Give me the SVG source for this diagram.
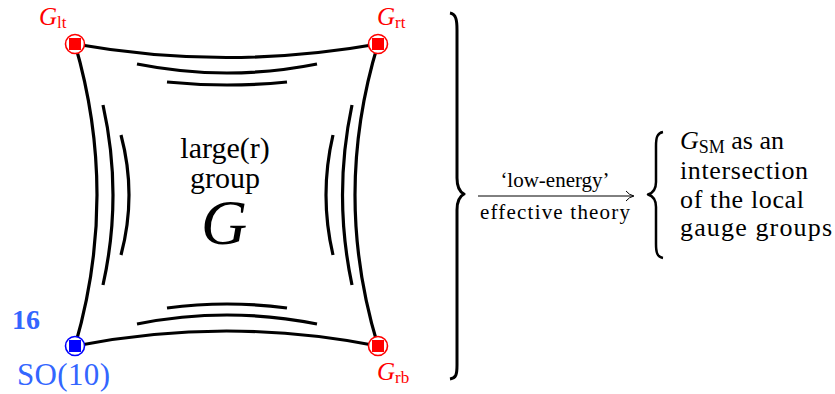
<svg xmlns="http://www.w3.org/2000/svg" width="835" height="394" viewBox="0 0 835 394">
<style>
.e{fill:none;stroke:#000;stroke-width:3.2;stroke-linecap:butt}
.br{fill:none;stroke:#000;stroke-linejoin:round}
text{font-family:'Liberation Serif','DejaVu Serif',serif}
.red{fill:#ff0000}
.blue{fill:#3366ff}
.ci{fill:#fff;stroke-width:1.6}
</style>
<rect width="835" height="394" fill="#fff"/>
<g id="connectors">
<path class="e" d="M75,44 Q226.5,71 378,44"/>
<path class="e" d="M75,346 Q226.5,316 378,346"/>
<path class="e" d="M75,44 Q119,195 75,346"/>
<path class="e" d="M378,44 Q332,195 378,346"/>
<path class="e" d="M137,64 Q227,82 317,64"/>
<path class="e" d="M167,82 Q227,88 287,82"/>
<path class="e" d="M137,324 Q227,306 317,324"/>
<path class="e" d="M167,308 Q227,300 287,308"/>
<path class="e" d="M103,105 Q123,195 103,285"/>
<path class="e" d="M121,135 Q137,195 121,255"/>
<path class="e" d="M352,105 Q333,195 352,285"/>
<path class="e" d="M333,135 Q319,195 333,255"/>
</g>
<g id="node-lt">
<circle class="ci" cx="75" cy="44" r="9.5" stroke="#ff0000"/>
<rect x="69" y="38" width="12" height="12" fill="#ff0000"/>
<text class="red" x="39" y="25" font-size="25" font-style="italic">G<tspan font-style="normal" font-size="17" dy="3">lt</tspan></text>
</g>
<g id="node-rt">
<circle class="ci" cx="378" cy="44" r="9.5" stroke="#ff0000"/>
<rect x="372" y="38" width="12" height="12" fill="#ff0000"/>
<text class="red" x="377" y="25" font-size="25" font-style="italic">G<tspan font-style="normal" font-size="17" dy="3">rt</tspan></text>
</g>
<g id="node-rb">
<circle class="ci" cx="378" cy="346" r="9.5" stroke="#ff0000"/>
<rect x="372" y="340" width="12" height="12" fill="#ff0000"/>
<text class="red" x="377" y="380" font-size="25" font-style="italic">G<tspan font-style="normal" font-size="17" dy="3">rb</tspan></text>
</g>
<g id="node-lb">
<circle class="ci" cx="75" cy="346" r="9.5" stroke="#0000ff"/>
<rect x="69" y="340" width="12" height="12" fill="#0000ff"/>
<text class="blue" x="12" y="329" font-size="28" font-weight="bold">16</text>
<text class="blue" x="17" y="385" font-size="31" textLength="93">SO(10)</text>
</g>
<g id="center-label">
<text x="225" y="158" font-size="30" text-anchor="middle">large(r)</text>
<text x="225" y="188" font-size="30" text-anchor="middle">group</text>
<text x="224" y="244" font-size="64" font-style="italic" text-anchor="middle">G</text>
</g>
<g id="brace-big">
<path class="br" stroke-width="3" d="M450,13 C456,14 457,20 457,30 L457,178 C457,188 460,192 464,194 C460,196 457,200 457,210 L457,365 C457,375 456,378 450,379"/>
</g>
<g id="arrow">
<line x1="478" y1="196" x2="633" y2="196" stroke="#000" stroke-width="1"/>
<path d="M626,191 Q629,195 634,196 Q629,197 626,201" fill="none" stroke="#000" stroke-width="1"/>
<text x="555" y="187" font-size="21" text-anchor="middle">‘low-energy’</text>
<text x="555" y="219" font-size="21" text-anchor="middle" textLength="150">effective theory</text>
</g>
<g id="result">
<path class="br" stroke-width="2.5" d="M663,132 C657,133 656,138 656,146 L656,182 C656,190 653,193 648,194.5 C653,196 656,199 656,207 L656,244 C656,252 657,257 663,258"/>
<text x="680" y="149" font-size="26"><tspan font-style="italic">G</tspan><tspan font-size="18" dy="4">SM</tspan><tspan dy="-4"> as an</tspan></text>
<text x="680" y="179" font-size="26" textLength="128">intersection</text>
<text x="680" y="208" font-size="26" textLength="124">of the local</text>
<text x="680" y="236" font-size="26" textLength="152">gauge groups</text>
</g>
</svg>
